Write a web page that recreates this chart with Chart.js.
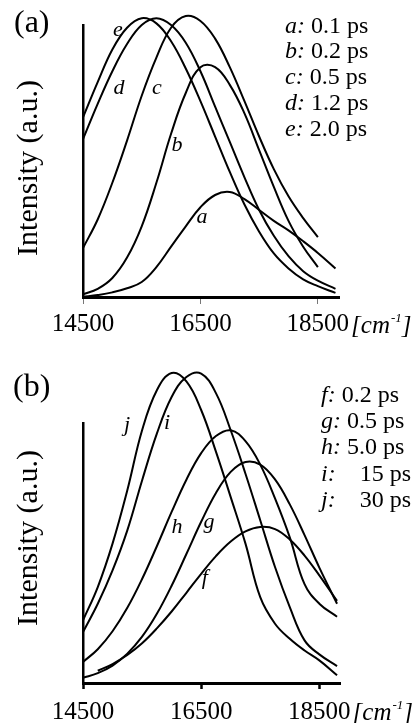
<!DOCTYPE html>
<html>
<head>
<meta charset="utf-8">
<script src="https://cdn.jsdelivr.net/npm/chart.js@4.4.1/dist/chart.umd.min.js"></script>
<style>
  html, body { margin: 0; padding: 0; background: #fff; }
  #wrap { position: relative; width: 420px; height: 723px; overflow: hidden; }
  canvas { position: absolute; left: 0; }
  #chartA { top: 0; }
  #chartB { top: 350px; }
</style>
</head>
<body>
<div id="wrap">
  <canvas id="chartA" width="420" height="350"></canvas>
  <canvas id="chartB" width="420" height="373"></canvas>
</div>
<script>
// wavenumber grid (cm-1), shared by every curve
const waveNumbers = [14500, 14750, 15000, 15250, 15500, 15750, 16000, 16250, 16500,
                     16750, 17000, 17250, 17500, 17750, 18000, 18250, 18500, 18800];
const tickValues = [14500, 16500, 18500];

// panel (a) - intensity in a.u. (100 = top of the axis)
const curveA_a = [0, 0.7, 1.7, 3.2, 5.5, 11, 18.5, 26, 33, 37.5, 38.6, 36, 32, 28, 24.5, 20.5, 16.2, 10.5];
const curveA_b = [1, 3, 7, 14.5, 26, 42, 60, 75, 84.5, 84.5, 78, 67.5, 54, 40.5, 28, 18.5, 11, null];
const curveA_c = [18, 28.5, 42, 57.5, 74, 88, 99, 103.3, 101.5, 95, 84.5, 72, 59, 47, 37, 29, 22, null];
const curveA_d = [58, 71, 83, 93, 100, 102.5, 100, 93.5, 83, 70, 57, 44, 32, 22.5, 15, 9.5, 6, 3];
const curveA_e = [66, 79, 91, 99, 102.5, 100.6, 94, 84, 72, 59, 46, 34, 24, 16, 10.5, 6.5, 4, 1.5];
const lettersA = ['a', 'b', 'c', 'd', 'e'];
const delaysA = ['0.1 ps', '0.2 ps', '0.5 ps', '1.2 ps', '2.0 ps'];
const letterXA = [16525, 16100, 15759, 15113, 15096];
const letterYA = [29.4, 55.9, 76.8, 76.8, 98.2];

// panel (b)
const curveB_f = [null, 4.7, 7.3, 10.8, 15.3, 21, 27.5, 34.7, 42, 48.8, 54.4, 58.3, 60, 59.2, 55.2, 49, 41.4, 31.6];
const curveB_g = [2, 3.8, 6.7, 11.3, 17.8, 26.6, 37.4, 49.6, 62, 73.1, 81.2, 85, 84, 78.3, 68.7, 56.9, 44.4, 30.5];
const curveB_h = [8.1, 13, 19.9, 28.9, 40, 52.6, 65.8, 78.2, 88.4, 95, 97.2, 93, 84, 71, 56, 38, 30.5, 25.5];
const curveB_i = [19.6, 30.5, 43.3, 58.7, 77.9, 95.9, 110, 117.7, 119, 111.5, 97.2, 80.5, 62.6, 44.6, 29.2, 16.4, 11, 6.5];
const curveB_j = [24.1, 36.9, 53.6, 74.1, 97.2, 112.6, 119.2, 116, 105, 89, 71.5, 53.6, 33, 22.8, 17, 12.5, 8.7, 3];
const lettersB = ['f', 'g', 'h', 'i', 'j'];
const delaysB = [' 0.2 ps', ' 0.5 ps', ' 5.0 ps', '    15 ps', '    30 ps'];
const letterXB = [16563, 16631, 16091, 15922, 15247];
const letterYB = [40.3, 61.8, 59.9, 99.9, 99.1];

const SERIF = "'Liberation Serif', 'Times New Roman', serif";

// text drawn on top of each panel: tag, y title, curve letters, legend, unit
function annotations(p) {
  return {
    id: 'annotations',
    afterDraw(chart) {
      const ctx = chart.ctx;
      const x = chart.scales.x, y = chart.scales.y;
      ctx.save();
      ctx.fillStyle = '#000';

      ctx.font = '32px ' + SERIF;
      ctx.textAlign = 'left';
      ctx.textBaseline = 'alphabetic';
      ctx.fillText(p.tag, p.tagX, p.tagY);

      ctx.save();
      ctx.translate(p.titleX, p.titleY);
      ctx.rotate(-Math.PI / 2);
      ctx.font = '30px ' + SERIF;
      ctx.textAlign = 'center';
      ctx.textBaseline = 'middle';
      ctx.fillText('Intensity (a.u.)', 0, 0);
      ctx.restore();

      // letters next to the curves
      ctx.font = 'italic 22px ' + SERIF;
      ctx.textAlign = 'center';
      ctx.textBaseline = 'middle';
      p.letters.forEach((l, i) => {
        ctx.fillText(l, x.getPixelForValue(p.letterX[i]), y.getPixelForValue(p.letterY[i]));
      });

      // legend block
      ctx.textAlign = 'left';
      ctx.textBaseline = 'alphabetic';
      p.letters.forEach((l, i) => {
        const by = p.legendY + i * p.legendStep;
        ctx.font = 'italic 24px ' + SERIF;
        ctx.fillText(l + ':', p.legendX, by);
        const w = ctx.measureText(l + ':').width;
        ctx.font = '24px ' + SERIF;
        ctx.fillText(p.delays[i], p.legendX + w, by);
      });

      // unit after the last tick label
      ctx.font = '25px ' + SERIF;
      let ux = x.getPixelForValue(18500) + ctx.measureText('18500').width / 2 + 2;
      const uy = p.unitY;
      ctx.font = 'italic 25px ' + SERIF;
      ctx.fillText('[cm', ux, uy);
      ux += ctx.measureText('[cm').width;
      ctx.font = 'italic 13px ' + SERIF;
      ctx.fillText('-1', ux + 1, uy - 11);
      ux += ctx.measureText('-1').width + 1;
      ctx.font = 'italic 25px ' + SERIF;
      ctx.fillText(']', ux, uy);
      ctx.restore();
    }
  };
}

function makeChart(id, series, o) {
  return new Chart(document.getElementById(id), {
    type: 'line',
    data: {
      labels: waveNumbers,
      datasets: series.map(s => ({
        data: s,
        borderColor: '#000',
        borderWidth: 2,
        pointRadius: 0,
        tension: 0.4,
        fill: false,
        clip: false
      }))
    },
    options: {
      responsive: false,
      animation: false,
      layout: { padding: { top: o.top, right: o.right, left: 0, bottom: 0 } },
      plugins: { legend: { display: false }, tooltip: { enabled: false } },
      scales: {
        x: {
          type: 'linear',
          min: 14500,
          max: o.xMax,
          afterBuildTicks: s => { s.ticks = tickValues.map(v => ({ value: v })); },
          afterFit: s => { s.height = o.xHeight; },
          ticks: {
            color: '#000',
            padding: o.tickPad,
            maxRotation: 0,
            font: { family: SERIF, size: 25 },
            callback: v => String(v)
          },
          grid: {
            drawOnChartArea: false,
            tickLength: o.tickLen,
            tickWidth: o.tickWidth,
            tickColor: o.tickColor
          },
          border: { color: '#000', width: 3 }
        },
        y: {
          min: 0,
          max: 100,
          afterFit: s => { s.width = 83; },
          ticks: { display: false },
          grid: { display: false },
          border: { color: '#000', width: 2.5 }
        }
      }
    },
    plugins: [annotations(o)]
  });
}

makeChart('chartA', [curveA_a, curveA_b, curveA_c, curveA_d, curveA_e], {
  top: 25, right: 81, xMax: 18860, xHeight: 53,
  tickPad: 5, tickLen: 7, tickWidth: 1, tickColor: '#777',
  tag: '(a)', tagX: 14, tagY: 32,
  titleX: 29, titleY: 168,
  letters: lettersA, letterX: letterXA, letterY: letterYA,
  legendX: 285, legendY: 32.5, legendStep: 25.8, delays: delaysA.map(d => ' ' + d),
  unitY: 333
});

makeChart('chartB', [curveB_f, curveB_g, curveB_h, curveB_i, curveB_j], {
  top: 73, right: 80, xMax: 18850, xHeight: 40,
  tickPad: 8, tickLen: 6, tickWidth: 2.5, tickColor: '#000',
  tag: '(b)', tagX: 13, tagY: 46,
  titleX: 29, titleY: 188,
  letters: lettersB, letterX: letterXB, letterY: letterYB,
  legendX: 321, legendY: 51.7, legendStep: 26.3, delays: delaysB,
  unitY: 370
});
</script>
</body>
</html>
